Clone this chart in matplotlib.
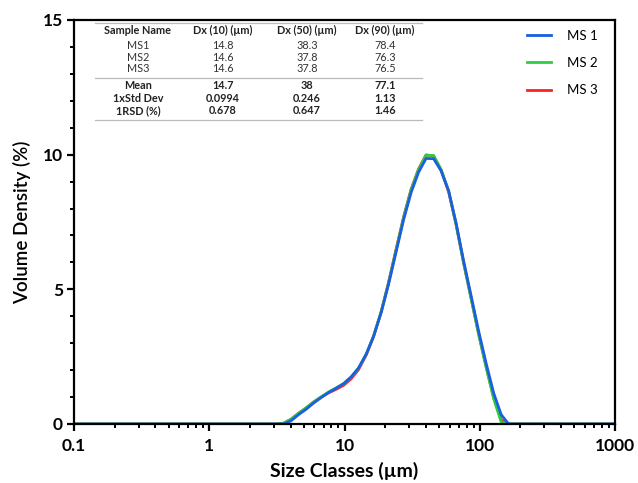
import matplotlib
matplotlib.use("Agg")
import matplotlib.pyplot as plt
from matplotlib.ticker import LogLocator, MultipleLocator, FixedLocator, NullFormatter

plt.rcParams['font.family'] = ['Lato', 'DejaVu Sans']

# Size classes (µm)
sizes = [0.1, 1.0, 3.125, 3.55, 4.03, 4.58, 5.21, 5.92, 6.72, 7.64, 8.68, 9.86,
         11.2, 12.7, 14.5, 16.4, 18.7, 21.2, 24.1, 27.4, 31.1, 35.3, 40.1,
         45.6, 51.8, 58.9, 66.9, 76.0, 86.4, 98.1, 111.5, 126.7, 143.9,
         163.5, 185.8, 1000.0]

ms1 = [0, 0, 0, 0.0, 0.12, 0.35, 0.55, 0.78, 0.98, 1.17, 1.33, 1.50,
       1.75, 2.08, 2.60, 3.25, 4.15, 5.20, 6.40, 7.60, 8.60, 9.35, 9.86,
       9.85, 9.40, 8.65, 7.45, 6.05, 4.75, 3.45, 2.25, 1.15, 0.35,
       0.0, 0, 0]
ms2 = [0, 0, 0, 0.03, 0.18, 0.40, 0.60, 0.82, 1.01, 1.19, 1.34, 1.50,
       1.74, 2.07, 2.60, 3.27, 4.18, 5.25, 6.47, 7.68, 8.70, 9.45, 9.98,
       9.97, 9.45, 8.65, 7.40, 5.98, 4.65, 3.33, 2.10, 0.95, 0.08,
       0.0, 0, 0]
ms3 = [0, 0, 0, 0.03, 0.18, 0.40, 0.60, 0.82, 1.00, 1.16, 1.29, 1.44,
       1.68, 2.02, 2.57, 3.25, 4.18, 5.27, 6.50, 7.70, 8.72, 9.47, 9.99,
       9.95, 9.42, 8.62, 7.40, 5.98, 4.66, 3.35, 2.13, 0.98, 0.15,
       0.0, 0, 0]

series_names = ["MS 1", "MS 2", "MS 3"]
series_colors = ["#1a5fe0", "#2ecc40", "#ff2020"]

# Summary table
table_header = ["Sample Name", "Dx (10) (µm)", "Dx (50) (µm)", "Dx (90) (µm)"]
table_rows = [["MS1", "14.8", "38.3", "78.4"],
              ["MS2", "14.6", "37.8", "76.3"],
              ["MS3", "14.6", "37.8", "76.5"]]
table_stats = [["Mean", "14.7", "38", "77.1"],
               ["1xStd Dev", "0.0994", "0.246", "1.13"],
               ["1RSD (%)", "0.678", "0.647", "1.46"]]

fig = plt.figure(figsize=(6.38, 4.83), dpi=100)
ax = fig.add_axes([74/638, 59/483, 541/638, 404/483])

lines = {}
for name, vals, col in zip(["MS 3", "MS 2", "MS 1"], [ms3, ms2, ms1],
                           [series_colors[2], series_colors[1], series_colors[0]]):
    ln, = ax.plot(sizes, vals, color=col, lw=2.0, solid_joinstyle='round')
    lines[name] = ln

ax.set_xscale('log')
ax.set_xlim(0.1, 1000)
ax.set_ylim(0, 15)
ax.set_yticks([0, 5, 10, 15])
ax.yaxis.set_minor_locator(MultipleLocator(1))
ax.xaxis.set_major_locator(FixedLocator([0.1, 1, 10, 100, 1000]))
ax.set_xticklabels(["0.1", "1", "10", "100", "1000"])
ax.xaxis.set_minor_locator(LogLocator(base=10, subs=range(2, 10), numticks=20))
ax.xaxis.set_minor_formatter(NullFormatter())

for s in ax.spines.values():
    s.set_linewidth(1.6)
ax.tick_params(which='major', direction='out', length=5, width=1.6, labelsize=12.5, pad=3)
ax.tick_params(axis='x', which='major', pad=5)
ax.tick_params(which='minor', direction='out', length=3, width=1.4)
for lab in ax.get_xticklabels() + ax.get_yticklabels():
    lab.set_fontweight('bold')

ax.set_xlabel("Size Classes (µm)", fontsize=14, fontweight='bold', labelpad=6)
ax.set_ylabel("Volume Density (%)", fontsize=13.5, fontweight='semibold', labelpad=8)

leg = ax.legend([lines["MS 1"], lines["MS 2"], lines["MS 3"]], series_names,
                loc='upper right', bbox_to_anchor=(0.99, 1.005), frameon=False,
                fontsize=9.5, handlelength=1.8, labelspacing=1.15, handletextpad=1.2)

# Table
col_x = [0.118, 0.275, 0.431, 0.575]
row_y_hdr = 0.973
row_y_data = [0.938, 0.908, 0.879]
row_y_stats = [0.839, 0.806, 0.775]
fs = 7.8
for cx, txt in zip(col_x, table_header):
    ax.text(cx, row_y_hdr, txt, transform=ax.transAxes, ha='center', va='center',
            fontsize=fs, fontweight='bold', color='#222222')
for ry, row in zip(row_y_data, table_rows):
    for cx, txt in zip(col_x, row):
        ax.text(cx, ry, txt, transform=ax.transAxes, ha='center', va='center',
                fontsize=fs, color='#333333')
for ry, row in zip(row_y_stats, table_stats):
    for cx, txt in zip(col_x, row):
        ax.text(cx, ry, txt, transform=ax.transAxes, ha='center', va='center',
                fontsize=fs, fontweight='bold', color='#222222')
for ly in [0.992, 0.857, 0.752]:
    ax.plot([0.039, 0.643], [ly, ly], transform=ax.transAxes, color='#bbbbbb',
            lw=0.9, clip_on=False)

fig.savefig("out.png", dpi=100)
